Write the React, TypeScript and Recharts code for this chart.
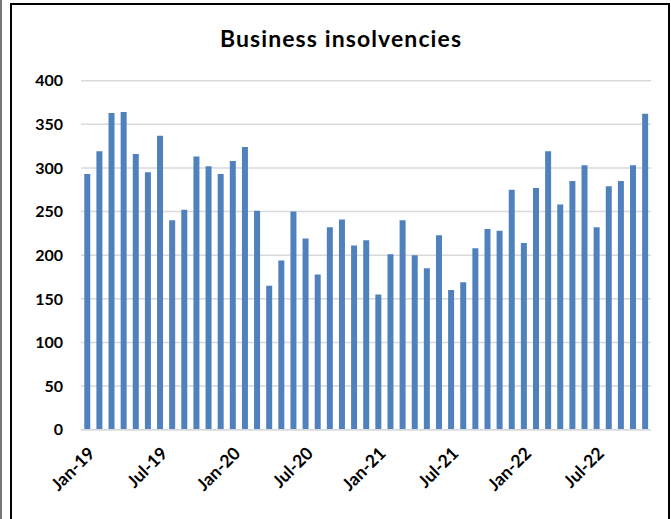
import { BarChart, Bar, XAxis, YAxis, CartesianGrid } from "recharts";

const months = [
  "Jan-19", "Feb-19", "Mar-19", "Apr-19", "May-19", "Jun-19",
  "Jul-19", "Aug-19", "Sep-19", "Oct-19", "Nov-19", "Dec-19",
  "Jan-20", "Feb-20", "Mar-20", "Apr-20", "May-20", "Jun-20",
  "Jul-20", "Aug-20", "Sep-20", "Oct-20", "Nov-20", "Dec-20",
  "Jan-21", "Feb-21", "Mar-21", "Apr-21", "May-21", "Jun-21",
  "Jul-21", "Aug-21", "Sep-21", "Oct-21", "Nov-21", "Dec-21",
  "Jan-22", "Feb-22", "Mar-22", "Apr-22", "May-22", "Jun-22",
  "Jul-22", "Aug-22", "Sep-22", "Oct-22", "Nov-22",
];

const insolvencies = [
  293, 319, 363, 364, 316, 295, 337, 240, 252, 313, 302, 293,
  308, 324, 251, 165, 194, 250, 219, 178, 232, 241, 211, 217,
  155, 201, 240, 200, 185, 223, 160, 169, 208, 230, 228, 275,
  214, 277, 319, 258, 285, 303, 232, 279, 285, 303, 362,
];

const yTicks = [0, 50, 100, 150, 200, 250, 300, 350, 400];

const data = months.map((month, i) => ({ month, value: insolvencies[i] }));

const FONT = "Lato, 'Liberation Sans', sans-serif";

export default function App() {
  return (
    <div
      style={{
        position: "fixed",
        left: 0,
        top: 0,
        width: 671,
        height: 519,
        overflow: "hidden",
        background: "#fff",
        fontFamily: FONT,
      }}
    >
      <div
        style={{
          position: "absolute",
          left: 0,
          top: 24,
          width: 682,
          textAlign: "center",
          fontSize: 23,
          letterSpacing: 1.1,
          fontWeight: 700,
          color: "#000",
        }}
      >
        Business insolvencies
      </div>
      <div style={{ position: "absolute", left: 0, top: 0 }}>
        <BarChart
          width={671}
          height={519}
          data={data}
          margin={{ top: 80.7, right: 20, bottom: 9.3, left: 0 }}
          barCategoryGap="27%"
        >
          <CartesianGrid vertical={false} stroke="#d9d9d9" strokeWidth={1.5} />
          <XAxis
            dataKey="month"
            height={80}
            interval={5}
            axisLine={{ stroke: "#d9d9d9", strokeWidth: 1.5 }}
            tickLine={false}
            tickSize={0}
            tickMargin={16}
            angle={-45}
            textAnchor="end"
            tick={{ fill: "#000", fontSize: 17.5, fontWeight: 700, fontFamily: FONT }}
          />
          <YAxis
            width={81}
            domain={[0, 400]}
            ticks={yTicks}
            axisLine={false}
            tickLine={false}
            tickSize={0}
            tickMargin={18}
            tick={{ fill: "#000", fontSize: 16, fontWeight: 700, fontFamily: FONT }}
          />
          <Bar dataKey="value" fill="#4f81bd" isAnimationActive={false} />
        </BarChart>
      </div>
      {/* page edge line and chart frame, drawn on top */}
      <div style={{ position: "absolute", left: 0, top: 0, width: 2, height: 519, background: "#777" }} />
      <div
        style={{
          position: "absolute",
          left: 10,
          top: 3,
          width: 656,
          height: 540,
          border: "2px solid #000",
          boxSizing: "content-box",
        }}
      />
    </div>
  );
}
